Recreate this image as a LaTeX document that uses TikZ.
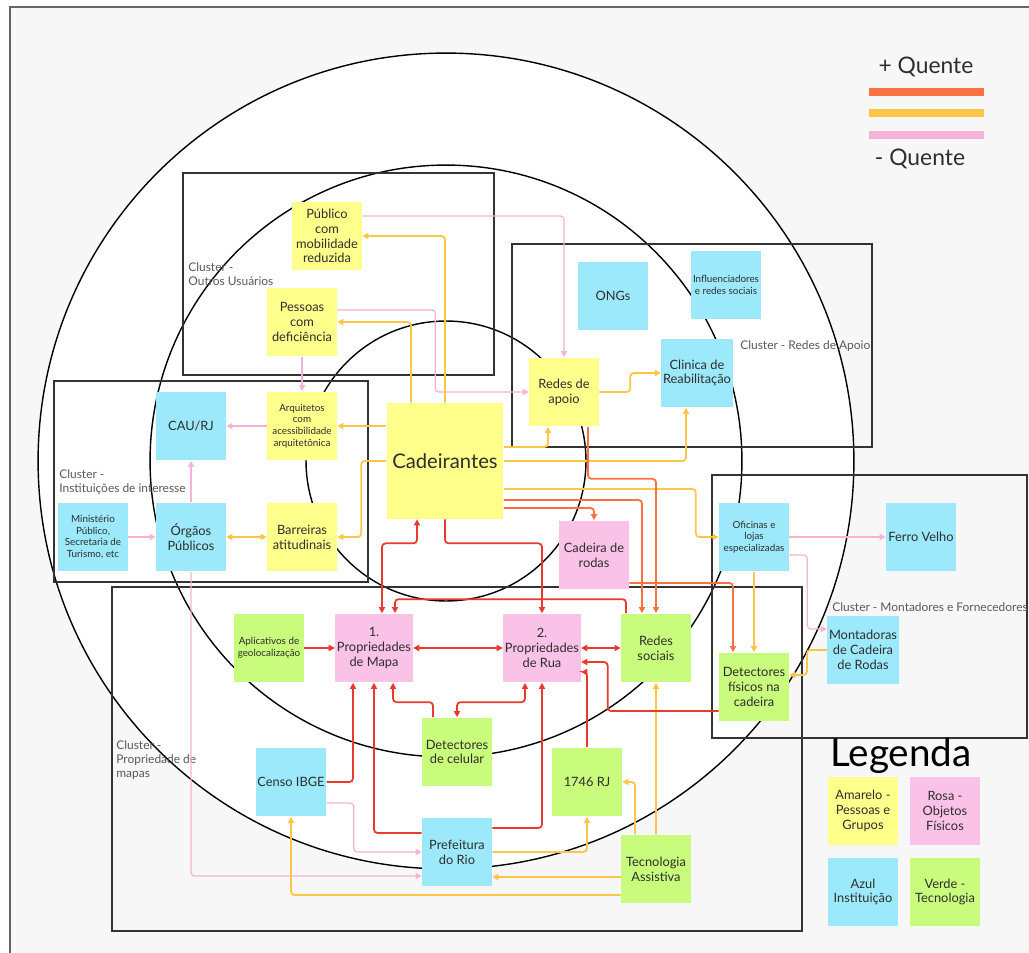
\documentclass[tikz,border=0pt]{standalone}
\usepackage{fontspec}
\setmainfont{Lato}
\usetikzlibrary{arrows.meta,calc}

\definecolor{note_yellow}{HTML}{FFFF8C}
\definecolor{note_pink}{HTML}{F9C2E6}
\definecolor{note_blue}{HTML}{9BE9FA}
\definecolor{note_green}{HTML}{C9FB7D}
\definecolor{note_text}{HTML}{2E2E2E}
\definecolor{line_pink}{HTML}{F7B2D9}
\definecolor{line_gold}{HTML}{FFC547}
\definecolor{line_orange}{HTML}{FA7140}
\definecolor{line_red}{HTML}{E83A2E}
\definecolor{page_gray}{HTML}{F7F7F7}
\colorlet{cluster_line}{black!80}
\colorlet{cluster_text}{black!65}

\begin{document}
\begin{tikzpicture}[x=0.02cm, y=-0.02cm,
    note/.style={rectangle, minimum width=1.4cm, minimum height=1.38cm,
      inner sep=1pt, align=center, text=note_text,
      font=\fontsize{7.3}{8.4}\selectfont},
    small/.style={font=\fontsize{5.6}{6.6}\selectfont},
    cluster/.style={draw=cluster_line, line width=1pt},
    clusterlabel/.style={text=cluster_text, align=left, inner sep=0pt,
      font=\fontsize{6.8}{8}\selectfont},
    ring/.style={draw=black, line width=0.8pt},
    link/.style={rounded corners=2pt,
      arrows={-Triangle[length=3.5pt,width=3.5pt]}},
    both/.style={arrows={Triangle[length=3.5pt,width=3.5pt]-Triangle[length=3.5pt,width=3.5pt]}},
    pinklink/.style={link, draw=line_pink, line width=0.7pt},
    goldlink/.style={link, draw=line_gold, line width=1pt},
    orangelink/.style={link, draw=line_orange, line width=1pt},
    redlink/.style={link, draw=line_red, line width=1pt}]

    % page and frame
    \useasboundingbox (0,0) rectangle (1029,953);
    \fill[white] (0,0) rectangle (1029,953);
    \fill[page_gray] (10,7) rectangle (1029,953);
    \draw[black!60, line width=0.6pt] (10,953) -- (10,7) -- (1029,7);

    % rings
    \coordinate (ctr) at (446,461);
    \draw[ring, fill=white] (ctr) circle[radius=8.16cm];
    \draw[ring] (ctr) circle[radius=5.92cm];
    \draw[ring] (ctr) circle[radius=2.8cm];

    % clusters
    \draw[cluster] (183,173) rectangle (494,375);
    \draw[cluster] (512,244) rectangle (872,447);
    \draw[cluster] (54,381) rectangle (368,582);
    \draw[cluster] (712,475) rectangle (1027,738);
    \draw[cluster] (112,587) rectangle (802,931);

    \node[clusterlabel, anchor=north west] (lbl_outros) at (188,262)
      {Cluster -\\Outros Usuários};
    \node[clusterlabel, anchor=west] (lbl_apoio) at (740,346)
      {Cluster - Redes de Apoio};
    \node[clusterlabel, anchor=north west] (lbl_inst) at (59,469)
      {Cluster -\\Instituições de interesse};
    \node[clusterlabel, anchor=west] (lbl_mont) at (832,607)
      {Cluster - Montadores e Fornecedores};
    \node[clusterlabel, anchor=north west] (lbl_prop) at (116,740)
      {Cluster -\\Propriedade de\\mapas};

    % notes: people and groups
    \node[note, fill=note_yellow] (pub) at (327,236)
      {Público\\com\\mobilidade\\reduzida};
    \node[note, fill=note_yellow] (pcd) at (302,322)
      {Pessoas\\com\\deficiência};
    \node[note, small, fill=note_yellow] (arq) at (302,426)
      {Arquitetos\\com\\acessibilidade\\arquitetônica};
    \node[note, fill=note_yellow] (bar) at (302,537)
      {Barreiras\\atitudinais};
    \node[note, fill=note_yellow, minimum width=2.34cm, minimum height=2.32cm,
      font=\fontsize{11.5}{13}\selectfont] (cad) at (445,461) {Cadeirantes};
    \node[note, fill=note_yellow] (redap) at (564,392) {Redes de\\apoio};

    % notes: institutions
    \node[note, fill=note_blue] (cau) at (191,426) {CAU/RJ};
    \node[note, small, fill=note_blue] (min) at (93,537)
      {Ministério\\Público,\\Secretaria de\\Turismo, etc};
    \node[note, fill=note_blue] (org) at (191,537) {Órgãos\\Públicos};
    \node[note, fill=note_blue] (ongs) at (613,296) {ONGs};
    \node[note, small, fill=note_blue] (infl) at (726,285)
      {Influenciadores\\e redes sociais};
    \node[note, fill=note_blue] (clin) at (697,373)
      {Clinica de\\Reabilitação};
    \node[note, small, fill=note_blue] (ofi) at (754,537)
      {Oficinas e\\lojas\\especializadas};
    \node[note, fill=note_blue] (ferro) at (921,537) {Ferro Velho};
    \node[note, fill=note_blue] (mont) at (863,650)
      {Montadoras\\de Cadeira\\de Rodas};
    \node[note, fill=note_blue] (censo) at (291,782) {Censo IBGE};
    \node[note, fill=note_blue] (pref) at (457,852) {Prefeitura\\do Rio};

    % notes: physical objects
    \node[note, fill=note_pink] (cdr) at (594,555) {Cadeira de\\rodas};
    \node[note, fill=note_pink] (mapa) at (374,648)
      {1.\\Propriedades\\de Mapa};
    \node[note, fill=note_pink] (rua) at (542,648)
      {2.\\Propriedades\\de Rua};

    % notes: technology
    \node[note, small, fill=note_green] (apl) at (269,648)
      {Aplicativos de\\geolocalização};
    \node[note, fill=note_green] (rsoc) at (656,648) {Redes\\sociais};
    \node[note, fill=note_green] (detf) at (754,687)
      {Detectores\\físicos na\\cadeira};
    \node[note, fill=note_green] (detc) at (457,752)
      {Detectores\\de celular};
    \node[note, fill=note_green] (rj) at (587,782) {1746 RJ};
    \node[note, fill=note_green] (tec) at (656,869)
      {Tecnologia\\Assistiva};

    % pink links
    \draw[pinklink] ($(pub.east)+(0,-20)$) -| (redap.north);
    \draw[pinklink] ($(pcd.east)+(0,-12)$) -- ++(98,0) |- (redap.west);
    \draw[pinklink] (pcd.south) -- (arq.north);
    \draw[pinklink] (arq.west) -- (cau.east);
    \draw[pinklink] (org.north) -- (cau.south);
    \draw[pinklink] (min.east) -- (org.west);
    \draw[pinklink] (org.south) |- ($(pref.west)+(0,24)$);
    \draw[pinklink] ($(censo.east)+(0,21)$) -- ++(27,0) |- (pref.west);
    \draw[pinklink] (ofi.east) -- (ferro.west);
    \draw[pinklink] ($(ofi.east)+(0,18)$) -- ++(18,0) |- ($(mont.west)+(0,-21)$);

    % gold links
    \draw[goldlink] (cad.north) |- (pub.east);
    \draw[goldlink] ($(cad.north)+(-34,0)$) |- (pcd.east);
    \draw[goldlink] ($(cad.west)+(0,-35)$) -- (arq.east);
    \draw[goldlink] (cad.west) -- ++(-25,0) |- (bar.east);
    \draw[goldlink, both] (org.east) -- (bar.west);
    \draw[goldlink] ($(cad.east)+(0,-14)$) -| ($(redap.south)+(-16,0)$);
    \draw[goldlink] (redap.east) -- ++(31,0) |- (clin.west);
    \draw[goldlink] (cad.east) -| ($(clin.south)+(-11,0)$);
    \draw[goldlink] ($(cad.east)+(0,28)$) -- ++(192,0) |- (ofi.west);
    \draw[goldlink] (ofi.south) -- (detf.north);
    \draw[goldlink] (mont.west) -- ++(-20,0) |- ($(detf.east)+(0,-12)$);
    \draw[goldlink] (tec.north) -- (rsoc.south);
    \draw[goldlink] ($(tec.north)+(-21,0)$) |- (rj.east);
    \draw[goldlink] (pref.east) -| (rj.south);
    \draw[goldlink] ($(tec.west)+(0,8)$) -- ($(pref.east)+(0,25)$);
    \draw[goldlink] ($(tec.west)+(0,26)$) -| (censo.south);

    % orange links
    \draw[orangelink] ($(cad.east)+(0,47)$) -| (cdr.north);
    \draw[orangelink] ($(cad.east)+(0,39)$) -| ($(rsoc.north)+(-14,0)$);
    \draw[orangelink] ($(redap.south)+(24,0)$) -- ++(0,52) -| (rsoc.north);
    \draw[orangelink] ($(cdr.east)+(0,28)$) -| ($(detf.north)+(-21,0)$);

    % red links
    \draw[redlink, both] ($(cad.south)+(-28,0)$) -- ++(0,24)
      -| ($(mapa.north)+(8,0)$);
    \draw[redlink] ($(rsoc.north)+(-30,0)$) -- ++(0,-14)
      -| ($(mapa.north)+(21,0)$);
    \draw[redlink] (cad.south) -- ++(0,24) -| (rua.north);
    \draw[redlink] (apl.east) -- (mapa.west);
    \draw[redlink, both] (mapa.east) -- (rua.west);
    \draw[redlink, both] (rua.east) -- (rsoc.west);
    \draw[redlink] ($(detc.north)+(-24,0)$) -- ++(0,-15)
      -| ($(mapa.south)+(19,0)$);
    \draw[redlink, both] (detc.north) -- ++(0,-15) -| ($(rua.south)+(-17,0)$);
    \draw[redlink] (censo.east) -| ($(mapa.south)+(-21,0)$);
    \draw[redlink] ($(pref.west)+(0,-19)$) -| (mapa.south);
    \draw[redlink] ($(pref.east)+(0,-24)$) -| (rua.south);
    \draw[redlink] (rj.north) |- ($(rua.east)+(0,24)$);
    \draw[redlink] ($(detf.west)+(0,24)$) -- ++(-111,0)
      |- ($(rua.east)+(0,14)$);

    % heat scale
    \node[text=note_text, font=\fontsize{13}{15}\selectfont] (hot_plus)
      at (926,67) {+ Quente};
    \draw[line_orange, line width=4.5pt] (869,92) -- (984,92);
    \draw[line_gold, line width=4.5pt] (869,113) -- (984,113);
    \draw[line_pink, line width=4.5pt] (869,135) -- (984,135);
    \node[text=note_text, font=\fontsize{13}{15}\selectfont] (hot_minus)
      at (920,159) {- Quente};

    % legend
    \node[text=black, font=\fontsize{22}{25}\selectfont] (legenda)
      at (901,756) {Legenda};
    \node[note, fill=note_yellow] (leg_y) at (863,811)
      {Amarelo -\\Pessoas e\\Grupos};
    \node[note, fill=note_pink] (leg_p) at (945,811)
      {Rosa -\\Objetos\\Físicos};
    \node[note, fill=note_blue] (leg_b) at (863,892) {Azul\\Instituição};
    \node[note, fill=note_green] (leg_g) at (945,892)
      {Verde -\\Tecnologia};
  \end{tikzpicture}
\end{document}
